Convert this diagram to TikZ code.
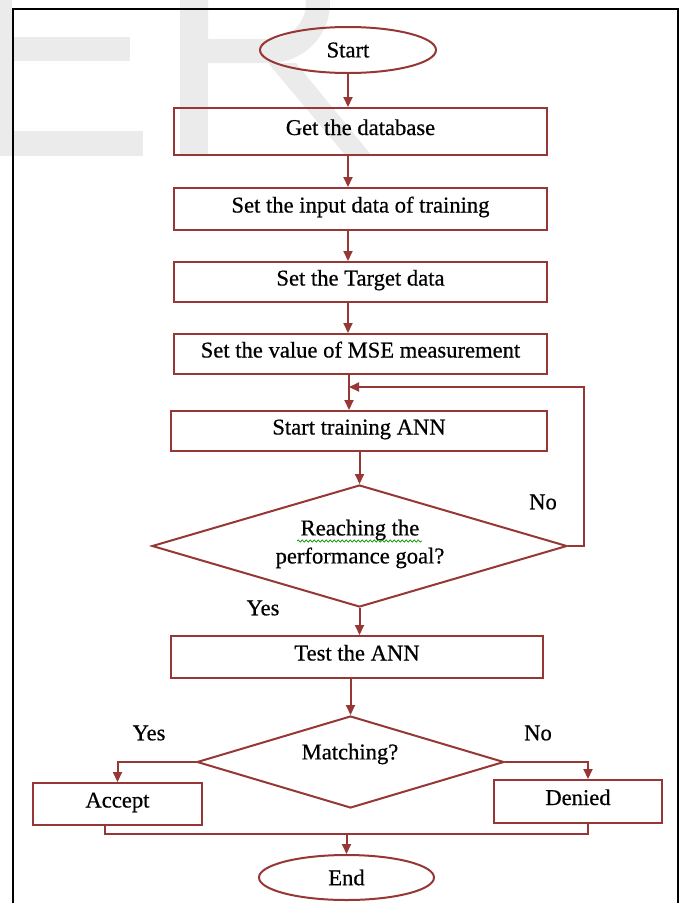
\documentclass[tikz,border=0pt]{standalone}
\usepackage{fontspec}
\setmainfont{Liberation Serif}[FakeBold=0.6]
\usetikzlibrary{shapes.geometric,arrows.meta,decorations.pathmorphing}
\definecolor{flow}{RGB}{150,55,53}
\definecolor{wm}{RGB}{235,235,235}
\begin{document}
\begin{tikzpicture}[x=1pt,y=-1pt,
  every node/.style={font=\fontsize{22.6}{28}\selectfont, text=black},
  box/.style={rectangle, draw=flow, line width=2pt, inner sep=0pt, text height=15pt, text depth=8pt},
  term/.style={ellipse, draw=flow, line width=2pt, inner sep=0pt},
  dec/.style={diamond, draw=flow, line width=2pt, inner sep=0pt},
  conn/.style={draw=flow, line width=2pt},
  arr/.style={conn, -{Triangle[length=10pt,width=9pt]}},
  lab/.style={inner sep=0pt}]
\useasboundingbox (0,0) rectangle (684,903);
% watermark
\fill[wm] (-15,-60) rectangle (12,156);
\fill[wm] (0,37) rectangle (130,61);
\fill[wm] (0,131) rectangle (143,156);
\fill[wm] (180,-60) rectangle (208,156);
\fill[wm, even odd rule] (208,-57) -- (270,-57) .. controls (303.1,-57) and (330,-29.9) .. (330,3)
  .. controls (330,36.1) and (303.1,63) .. (270,63) -- (208,63) -- cycle
  (208,-33) -- (270,-33) .. controls (289.9,-33) and (306,-16.9) .. (306,3)
  .. controls (306,22.9) and (289.9,39) .. (270,39) -- (208,39) -- cycle;
\fill[wm] (268,63) -- (296,63) -- (372,156) -- (346,156) -- cycle;
% frame
\draw[black, line width=2.4pt] (13,930) -- (13,9) -- (678,9) -- (678,930);
% nodes
\node[term, minimum width=176pt, minimum height=46pt] (start) at (348,50) {Start};
\node[box, minimum width=373pt, minimum height=47pt] (db) at (360.5,131.5) {Get the database};
\node[box, minimum width=373pt, minimum height=42pt] (input) at (360.5,209) {Set the input data of training};
\node[box, minimum width=373pt, minimum height=40pt] (target) at (360.5,282) {Set the Target data};
\node[box, minimum width=373pt, minimum height=40pt] (mse) at (360.5,354) {Set the value of MSE measurement};
\node[box, minimum width=376pt, minimum height=40pt] (train) at (359,431) {Start training ANN};
\node[dec, minimum width=415pt, minimum height=122pt] (goal) at (359.5,546) {};
\node[lab, align=center] (goaltxt) at (360,544) {Reaching the\\performance goal?};
\node[box, minimum width=372pt, minimum height=42pt] (test) at (357,657) {Test the ANN};
\node[dec, minimum width=307pt, minimum height=92pt] (match) at (350.5,762) {};
\node[lab] (matchtxt) at (350,754) {Matching?};
\node[box, minimum width=169pt, minimum height=42pt] (accept) at (117.5,804) {Accept};
\node[box, minimum width=168pt, minimum height=43pt] (denied) at (578,801.5) {Denied};
\node[term, minimum width=175pt, minimum height=45pt] (end) at (346.5,877.5) {End};
% labels
\node[lab] (no1) at (543,502) {No};
\node[lab] (yes1) at (263,608) {Yes};
\node[lab] (yes2) at (149,733) {Yes};
\node[lab] (no2) at (538,733) {No};
% spell-check underline
\draw[green!60!black, line width=0.7pt, decorate, decoration={snake, amplitude=1.1pt, segment length=4pt}] (297,541) -- (422,541);
% helper coordinates
\coordinate (fbin) at (349,387);
\coordinate (fbturn) at (584,387);
\coordinate (ajoin) at (105,834);
\coordinate (djoin) at (588,834);
% connectors
\draw[arr] (start.south) -- (start.south |- db.north);
\draw[arr] (db.south -| start.south) -- (input.north -| start.south);
\draw[arr] (input.south -| start.south) -- (target.north -| start.south);
\draw[arr] (target.south -| start.south) -- (mse.north -| start.south);
\draw[arr] (mse.south -| fbin) -- (train.north -| fbin);
\draw[arr] (goal.east) -| (fbturn) -- (fbin);
\draw[arr] (train.south -| goal.north) -- (goal.north);
\draw[arr] (goal.south) -- (goal.south |- test.north);
\draw[arr] (test.south -| match.north) -- (match.north);
\draw[arr] (match.west) -| (accept.north);
\draw[arr] (match.east) -| (denied.north -| djoin);
\draw[conn] (accept.south -| ajoin) -- (ajoin) -- (djoin) -- (denied.south -| djoin);
\draw[arr] (end.north |- djoin) -- (end.north);
\end{tikzpicture}
\end{document}
